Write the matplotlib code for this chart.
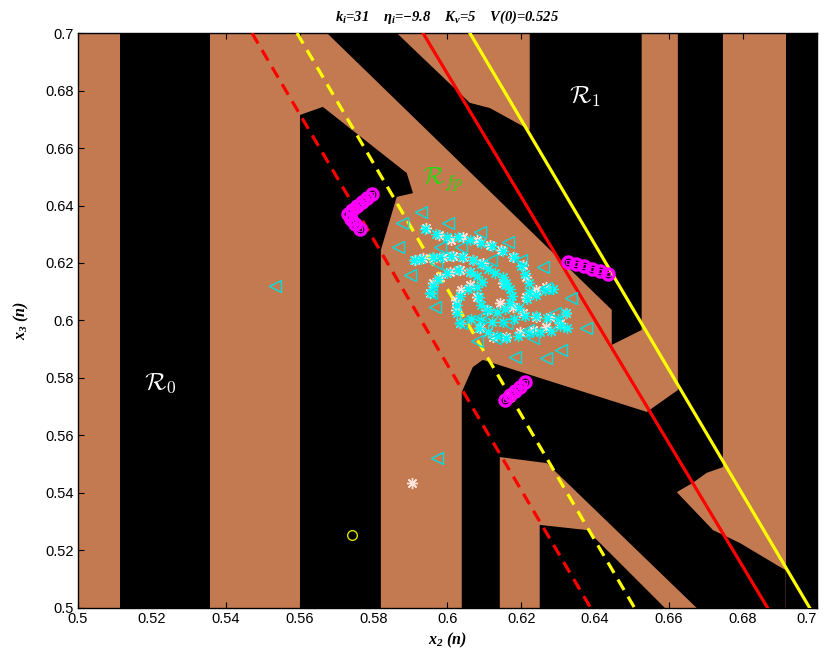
import matplotlib
matplotlib.use("Agg")
import matplotlib.pyplot as plt
from matplotlib.patches import Polygon

plt.rcParams["mathtext.fontset"] = "custom"
plt.rcParams["mathtext.it"] = "Liberation Serif:italic:bold"
plt.rcParams["mathtext.rm"] = "Liberation Serif:italic:bold"
plt.rcParams["mathtext.bf"] = "Liberation Serif:italic:bold"

# ---------------- data ----------------
x_range = (0.5, 0.7)
y_range = (0.5, 0.7)
ticks = [0.5, 0.52, 0.54, 0.56, 0.58, 0.6, 0.62, 0.64, 0.66, 0.68, 0.7]
tick_labels = ["0.5", "0.52", "0.54", "0.56", "0.58", "0.6", "0.62", "0.64", "0.66", "0.68", "0.7"]

# basins of attraction (black regions on top of the copper background)
stripe_a = [(0.5114, 0.5), (0.5114, 0.7), (0.5357, 0.7), (0.5357, 0.5)]
region_b = [(0.5601, 0.5), (0.5601, 0.6715), (0.5663, 0.6743), (0.5890, 0.6513),
            (0.5907, 0.6443), (0.5863, 0.6430), (0.5820, 0.6245), (0.5820, 0.5)]
region_band = [(0.5674, 0.7), (0.5863, 0.7), (0.6061, 0.6757), (0.6115, 0.6739),
               (0.6223, 0.6663), (0.6223, 0.7), (0.6526, 0.7), (0.6526, 0.5967),
               (0.6445, 0.5915), (0.6445, 0.6037)]
region_c = [(0.6039, 0.5), (0.6039, 0.5751), (0.6069, 0.5838), (0.6096, 0.5863),
            (0.6540, 0.5682), (0.6624, 0.5758), (0.6624, 0.7), (0.6746, 0.7),
            (0.6746, 0.5490), (0.6702, 0.5470), (0.6664, 0.5435), (0.6621, 0.5403),
            (0.6719, 0.5271), (0.6792, 0.5226), (0.6900, 0.5143), (0.6916, 0.5132),
            (0.6916, 0.5), (0.6675, 0.5), (0.6269, 0.5504), (0.6142, 0.5525),
            (0.6142, 0.5)]
region_f = [(0.6250, 0.5), (0.6250, 0.5289), (0.6378, 0.5271), (0.6589, 0.5)]
stripe_r = [(0.6916, 0.5), (0.6916, 0.7), (0.7, 0.7), (0.7, 0.5)]

# boundary lines (x2 at x3=0.7, x2 at x3=0.5)
red_dash = ([0.5471, 0.6388], [0.7, 0.5])
yellow_dash = ([0.5593, 0.6507], [0.7, 0.5])
red_solid = ([0.5934, 0.6867], [0.7, 0.5])
yellow_solid = ([0.6061, 0.6981], [0.7, 0.5])

# iterates spiralling into the fixed point (cyan asterisks)
spiral_x = [0.594, 0.597, 0.600, 0.603, 0.606, 0.609, 0.612, 0.615, 0.618, 0.620, 0.621, 0.622, 0.622,
            0.591, 0.593, 0.596, 0.598, 0.601, 0.604, 0.607, 0.609, 0.611, 0.613, 0.615, 0.616,
            0.5955, 0.596, 0.5975, 0.600, 0.603, 0.606, 0.608, 0.6095,
            0.6035, 0.6025, 0.6025, 0.6035, 0.6055, 0.608,
            0.6085, 0.609, 0.611, 0.6135, 0.6155, 0.617, 0.6175, 0.617, 0.6155,
            0.6065, 0.609, 0.612, 0.615, 0.618, 0.621, 0.624, 0.627, 0.630, 0.632,
            0.6085, 0.611, 0.6135, 0.616, 0.619, 0.622, 0.625, 0.628, 0.6305, 0.6325,
            0.6195, 0.6215, 0.624, 0.6265, 0.6285]
spiral_y = [0.632, 0.630, 0.629, 0.629, 0.628, 0.627, 0.626, 0.624, 0.622, 0.619, 0.616, 0.613, 0.610,
            0.621, 0.6215, 0.622, 0.6222, 0.6225, 0.622, 0.621, 0.6195, 0.618, 0.6165, 0.615, 0.613,
            0.6095, 0.612, 0.6145, 0.6165, 0.6175, 0.617, 0.6155, 0.6135,
            0.599, 0.6025, 0.6055, 0.6085, 0.611, 0.6115,
            0.608, 0.6055, 0.6035, 0.603, 0.604, 0.606, 0.6085, 0.611, 0.6125,
            0.6005, 0.600, 0.5995, 0.5995, 0.6005, 0.6015, 0.6015, 0.601, 0.6005, 0.6025,
            0.5975, 0.596, 0.5945, 0.594, 0.5945, 0.5955, 0.596, 0.5965, 0.598, 0.5975,
            0.6045, 0.6075, 0.609, 0.6105, 0.611]

# a second set of iterates (light asterisks)
star_x = [0.5943, 0.5978, 0.6011, 0.6043, 0.6079, 0.6115, 0.6146, 0.6178, 0.6205, 0.6214,
          0.5912, 0.5934, 0.5961, 0.5988, 0.6015, 0.6043, 0.6070, 0.6097,
          0.5952, 0.5961, 0.5979, 0.6006, 0.6033, 0.6061,
          0.6033, 0.6024, 0.6023, 0.6038, 0.6061,
          0.6088, 0.6124, 0.6160, 0.6196, 0.6232, 0.6268, 0.6304, 0.6322, 0.6277, 0.6241,
          0.6205, 0.6178, 0.6268, 0.6241, 0.6214, 0.6079, 0.6151, 0.6142, 0.6106]
star_y = [0.6321, 0.6297, 0.6280, 0.6289, 0.6280, 0.6263, 0.6245, 0.6222, 0.6193, 0.6153,
          0.6211, 0.6216, 0.6216, 0.6222, 0.6224, 0.6222, 0.6211, 0.6199,
          0.6095, 0.6129, 0.6153, 0.6170, 0.6176, 0.6170,
          0.5992, 0.6037, 0.6071, 0.6106, 0.6124,
          0.5973, 0.5944, 0.5944, 0.5961, 0.5967, 0.5979, 0.5990, 0.6025, 0.6013, 0.6013,
          0.6025, 0.6048, 0.6118, 0.6106, 0.6083, 0.6083, 0.6129, 0.6060, 0.6037]
tri_x = [0.5930, 0.5876, 0.5867, 0.5898, 0.6002, 0.6088, 0.6164, 0.6200, 0.6259, 0.6336,
         0.6376, 0.6309, 0.6268, 0.6182, 0.6079, 0.5957, 0.5979, 0.6038, 0.6119, 0.5970,
         0.5966, 0.6038, 0.6128, 0.6218, 0.6291, 0.6268, 0.6232, 0.6160, 0.6088,
         0.5533, 0.5971]
tri_y = [0.6379, 0.6338, 0.6257, 0.6158, 0.6338, 0.6309, 0.6274, 0.6211, 0.6187, 0.6077,
         0.5973, 0.5898, 0.5869, 0.5874, 0.5927, 0.6095, 0.6257, 0.6257, 0.6211, 0.6199,
         0.6048, 0.5992, 0.5938, 0.5967, 0.6025, 0.6112, 0.5938, 0.5990, 0.6013,
         0.6120, 0.5521]
lone_star = ([0.5904], [0.5434])
start_circle = ([0.5741], [0.5253])

# period orbits (magenta clusters)
orbit_x = [0.5796, 0.5782, 0.5768, 0.5755, 0.5741, 0.5731, 0.5739, 0.5750, 0.5763,
           0.6326, 0.6348, 0.6369, 0.6391, 0.6413, 0.6434,
           0.6155, 0.6169, 0.6182, 0.6196, 0.6210]
orbit_y = [0.6440, 0.6426, 0.6412, 0.6398, 0.6384, 0.6370, 0.6353, 0.6335, 0.6318,
           0.6203, 0.6196, 0.6189, 0.6179, 0.6172, 0.6162,
           0.5723, 0.5740, 0.5754, 0.5768, 0.5786]

# ---------------- drawing ----------------
copper = "#c47a50"
fig = plt.figure(figsize=(8.25, 6.67), dpi=100)
ax = fig.add_axes([0.0945, 0.0885, 0.8955, 0.862])
ax.set_facecolor(copper)

for poly in (stripe_a, region_b, region_band, region_c, region_f, stripe_r):
    ax.add_patch(Polygon(poly, closed=True, facecolor="black", edgecolor="none", zorder=1))

ax.plot(*red_dash, color="#ff0000", lw=2.3, dashes=(3.8, 2.4), zorder=3)
ax.plot(*yellow_dash, color="#ffff00", lw=2.3, dashes=(3.8, 2.4), zorder=3)
ax.plot(*red_solid, color="#ff0000", lw=2.3, zorder=3)
ax.plot(*yellow_solid, color="#ffff00", lw=2.3, zorder=3)

asterisk = (8, 2, 0)
ax.plot(star_x, star_y, ls="none", marker=asterisk, ms=8, color="#ffe4dc", mew=1.0, zorder=4)
ax.plot(spiral_x, spiral_y, ls="none", marker=asterisk, ms=8, color="#00ffff", mew=0.9, zorder=5)
ax.plot(tri_x, tri_y, ls="none", marker="<", ms=8, mfc="none", mec="#00e0e0", mew=1.0, zorder=5)
ax.plot(*lone_star, ls="none", marker=asterisk, ms=8, color="#ffe4dc", mew=1.0, zorder=5)
ax.plot(*start_circle, ls="none", marker="o", ms=7, mfc="none", mec="#e0e000", mew=1.0, zorder=5)

ax.plot(orbit_x, orbit_y, ls="none", marker="o", ms=8, mfc="none", mec="#ff00ff", mew=2.4, zorder=6)
ax.plot(orbit_x, orbit_y, ls="none", marker="s", ms=3.5, mfc="none", mec="#ff00ff", mew=1.0, zorder=6)

cm_label = dict(fontsize=18, ha="center", va="center", zorder=7, math_fontfamily="cm")
ax.text(0.5222, 0.5783, r"$\mathcal{R}_0$", color="white", **cm_label)
ax.text(0.6372, 0.6777, r"$\mathcal{R}_1$", color="white", **cm_label)
ax.text(0.5988, 0.6489, r"$\mathcal{R}_{fp}$", color="#22dd11", **cm_label)

ax.set_xlim(*x_range)
ax.set_ylim(*y_range)
ax.set_xticks(ticks)
ax.set_xticklabels(tick_labels)
ax.set_yticks(ticks)
ax.set_yticklabels(tick_labels)
ax.tick_params(direction="in", top=True, right=True, length=4, width=0.8,
               labelsize=10.5, pad=3)
for lab in ax.get_xticklabels() + ax.get_yticklabels():
    lab.set_fontfamily("Liberation Sans")
# keep the last x tick label inside the canvas
ax.get_xticklabels()[-1].set_horizontalalignment("right")
ax.get_xticklabels()[-1].set_x(0.7004)
for s in ax.spines.values():
    s.set_linewidth(1.0)

serif = dict(family="Liberation Serif", weight="bold", style="italic")
ax.set_xlabel(r"$x_2$ (n)", fontsize=11.5, labelpad=3, **serif)
ax.set_ylabel(r"$x_3$ (n)", fontsize=11.5, labelpad=10, **serif)
ax.set_title(r"$k_i$=31    η$_i$=−9.8    $K_v$=5    V(0)=0.525",
             fontsize=10.5, pad=9, **serif)

fig.savefig("out.png", dpi=100)
